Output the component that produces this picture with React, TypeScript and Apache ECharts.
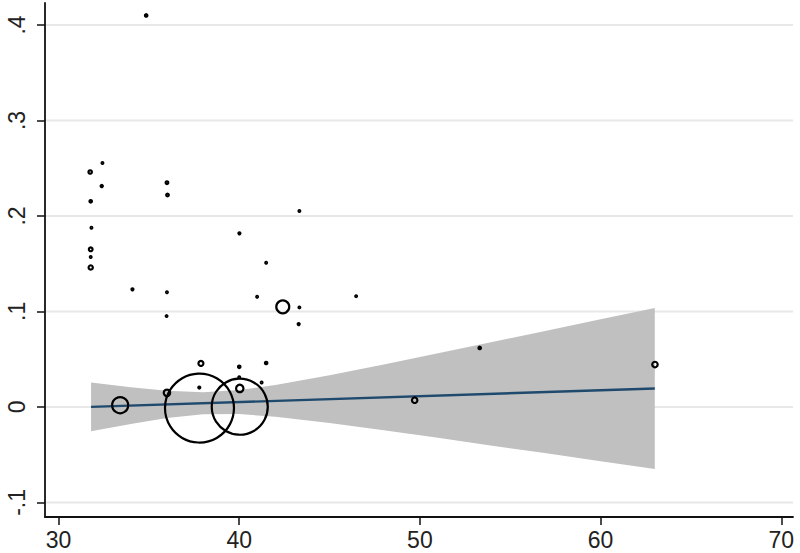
import React, { useEffect, useRef } from "react";
import * as echarts from "echarts";

// Axis ticks
const xTicks = [30, 40, 50, 60, 70];
const yTicks = [-0.1, 0, 0.1, 0.2, 0.3, 0.4];

// Studies (bubble plot): covariate, effect, relative weight
const studyX = [
  34.85, 31.75, 32.43, 32.39, 31.78, 31.82, 31.78, 31.78, 31.78, 36.0,
  36.03, 40.01, 43.33, 41.49, 34.09, 36.0, 35.98, 40.99, 42.41, 43.33,
  43.29, 46.47, 37.88, 40.0, 41.49, 40.0, 41.24, 40.03, 37.79, 36.0,
  33.41, 37.8, 40.03, 53.31, 63.01, 49.71,
];
const studyY = [
  0.41, 0.246, 0.2555, 0.2313, 0.2153, 0.1876, 0.165, 0.157, 0.146, 0.2348,
  0.2219, 0.1818, 0.2051, 0.151, 0.1231, 0.12, 0.0951, 0.1153, 0.1048, 0.1042,
  0.0867, 0.116, 0.0455, 0.042, 0.046, 0.031, 0.0256, 0.0193, 0.0203, 0.0147,
  0.0018, -0.0012, 0.0002, 0.0618, 0.0444, 0.007,
];
const studyWeight = [
  0.06, 0.12, 0.03, 0.05, 0.06, 0.03, 0.14, 0.03, 0.18, 0.07,
  0.07, 0.04, 0.03, 0.03, 0.04, 0.03, 0.03, 0.03, 1.69, 0.03,
  0.04, 0.03, 0.25, 0.06, 0.06, 0.03, 0.03, 0.55, 0.04, 0.42,
  2.56, 47.6, 31.4, 0.06, 0.3, 0.3,
];

// Fitted meta-regression line
const fitX = [31.8, 63.0];
const fitY = [0.0, 0.0193];

// Confidence band
const bandX = [31.8, 34, 36, 38, 40, 42, 45, 48, 51, 54, 57, 60, 63];
const bandLower = [-0.0256, -0.0178, -0.0117, -0.0078, -0.0075, -0.0103, -0.0168, -0.0244, -0.0323, -0.0406, -0.0486, -0.0568, -0.065];
const bandUpper = [0.0256, 0.0206, 0.0169, 0.0154, 0.0177, 0.0229, 0.0332, 0.0444, 0.0561, 0.068, 0.0798, 0.0918, 0.1036];

const X_MIN = 29.25;
const X_MAX = 70.65;
const FONT = "'Liberation Sans', Arial, sans-serif";

export default function App() {
  const ref = useRef<HTMLDivElement>(null);

  useEffect(() => {
    if (!ref.current) return;
    const chart = echarts.init(ref.current, null, { renderer: "svg" });

    const fmtY = (v: number) => {
      if (Math.abs(v) < 1e-9) return "0";
      const s = String(Math.round(v * 10) / 10);
      return s.replace("0.", ".");
    };

    chart.setOption({
      animation: false,
      backgroundColor: "#ffffff",
      grid: { left: 45, right: 7, top: 3, bottom: 36, containLabel: false },
      xAxis: {
        type: "value",
        min: X_MIN,
        max: X_MAX,
        axisLine: { show: true, onZero: false, lineStyle: { color: "#111", width: 1.8 } },
        axisTick: { show: true, length: 8, customValues: xTicks, lineStyle: { color: "#111", width: 1.5 } },
        axisLabel: {
          customValues: xTicks,
          margin: 11,
          color: "#222",
          fontSize: 23,
          fontFamily: FONT,
        },
        splitLine: { show: false },
      },
      yAxis: {
        type: "value",
        min: -0.1153,
        max: 0.423,
        axisLine: { show: true, onZero: false, lineStyle: { color: "#111", width: 1.8 } },
        axisTick: { show: true, length: 8, customValues: yTicks, lineStyle: { color: "#111", width: 1.5 } },
        axisLabel: {
          customValues: yTicks,
          rotate: 90,
          margin: 17,
          color: "#222",
          fontSize: 23,
          fontFamily: FONT,
          formatter: fmtY,
        },
        splitLine: { show: false },
      },
      series: [
        {
          type: "custom",
          z: 0,
          silent: true,
          data: yTicks.map((v) => [v]),
          renderItem: (params: any, api: any) => {
            const v = yTicks[params.dataIndex];
            const a = api.coord([X_MIN, v]);
            const b = api.coord([X_MAX, v]);
            return {
              type: "line",
              shape: { x1: a[0] + 1, y1: a[1], x2: b[0], y2: b[1] },
              style: { stroke: "#e8e8e8", lineWidth: 2 },
            };
          },
        },
        {
          type: "custom",
          z: 1,
          silent: true,
          data: bandX.map((x, i) => [x, bandLower[i], bandUpper[i]]),
          renderItem: (params: any, api: any) => {
            if (params.dataIndex !== 0) return null;
            const pts: number[][] = [];
            for (let i = 0; i < bandX.length; i++) pts.push(api.coord([bandX[i], bandUpper[i]]));
            for (let i = bandX.length - 1; i >= 0; i--) pts.push(api.coord([bandX[i], bandLower[i]]));
            return {
              type: "polygon",
              shape: { points: pts },
              style: { fill: "#c0c0c0", stroke: "none" },
            };
          },
        },
        {
          type: "line",
          z: 2,
          silent: true,
          symbol: "none",
          data: fitX.map((x, i) => [x, fitY[i]]),
          lineStyle: { color: "#1f4a6e", width: 2.4 },
        },
        {
          type: "scatter",
          z: 3,
          silent: true,
          data: studyX.map((x, i) => [x, studyY[i], studyWeight[i]]),
          symbol: "circle",
          symbolSize: (v: number[]) => 10 * Math.sqrt(v[2]),
          itemStyle: { color: "rgba(0,0,0,0)", borderColor: "#000", borderWidth: 2.2, opacity: 1 },
        },
      ],
    });

    return () => chart.dispose();
  }, []);

  return (
    <div
      ref={ref}
      style={{ position: "fixed", left: 0, top: 0, width: 800, height: 553, background: "#fff" }}
    />
  );
}
